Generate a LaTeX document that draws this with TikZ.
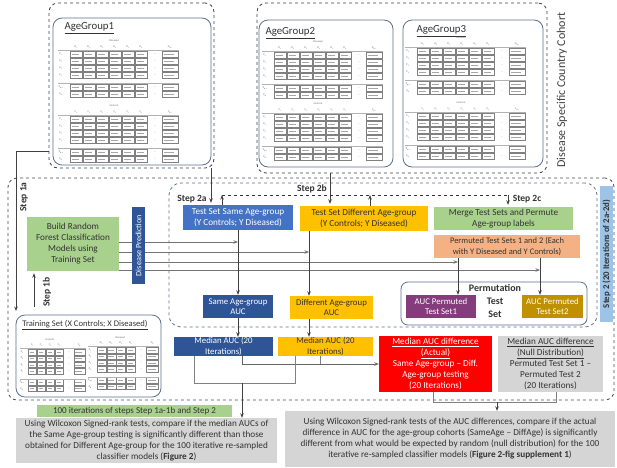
\documentclass[tikz,border=0pt]{standalone}
\usepackage{fontspec}
\setmainfont{Carlito}
\usetikzlibrary{arrows.meta}

\definecolor{leafgreen}{HTML}{A9D18E}
\definecolor{midblue}{HTML}{4472C4}
\definecolor{deepblue}{HTML}{2F5597}
\definecolor{gold}{HTML}{FFC000}
\definecolor{peach}{HTML}{F4B183}
\definecolor{plum}{HTML}{843C7C}
\definecolor{darkgold}{HTML}{BF9000}
\definecolor{alarm}{HTML}{FF0000}
\definecolor{pale}{HTML}{D5D5D5}
\definecolor{skyblue}{HTML}{9DC3E6}
\definecolor{frameblue}{HTML}{5A6E8C}
\definecolor{ink}{HTML}{333333}

\tikzset{
  box/.style={rectangle, align=center, inner sep=0pt, text=ink,
    font=\fontsize{9.2}{11}\selectfont},
  smallbox/.style={box, font=\fontsize{8.8}{10.6}\selectfont},
  frame/.style={rectangle, inner sep=0pt, outer sep=0pt},
  agebox/.style={frame, draw=frameblue, rounded corners=9pt, line width=0.8pt},
  cohortframe/.style={frame, draw=black!75, dashed, rounded corners=9pt, line width=0.8pt},
  loopframe/.style={frame, draw=frameblue, dashed, rounded corners=12pt, line width=0.8pt},
  arr/.style={-{Stealth[length=4.5pt,width=3.5pt]}, draw=black!75, line width=0.8pt},
  feed/.style={arr, draw=black!55},
  link/.style={draw=black!50, line width=0.7pt},
  steplbl/.style={text=ink, font=\bfseries\fontsize{9.5}{11}\selectfont, inner sep=1pt},
  tinytxt/.style={font=\fontsize{2.6}{3}\selectfont, text=black!60, inner sep=0pt},
  cellbox/.style={draw=black!50, fill=white, line width=0.3pt},
  celltxt/.style={draw=black!35, line width=0.7pt},
}

% mini data table: [scaling]{shift}{title}{letter}{columns}{last index}
\newcommand{\datablock}[6][]{%
  \begin{scope}[shift={#2},#1]
    \pgfmathsetmacro{\xd}{13*#5+19}
    \pgfmathsetmacro{\xl}{13*#5+26}
    \node[tinytxt] at (\xl/2+4,0) {#3};
    \foreach \c in {1,...,#5} {
      \node[tinytxt] at (5+13*\c,6) {#4\textsubscript{\c}};
      \node[tinytxt] at (5+13*\c,38.5) {..};
      \foreach \ry in {10,17,24,31,43,50} {
        \draw[cellbox] (-1+13*\c,\ry) rectangle ++(12,6);
        \draw[celltxt] (1+13*\c,\ry+3) -- ++(7,0);
      }
    }
    \node[tinytxt] at (\xl+8,6) {#4\textsubscript{#6}};
    \foreach \ry in {10,17,24,31,43,50} {
      \node[tinytxt] at (\xd,\ry+3) {...};
      \draw[cellbox] (\xl,\ry) rectangle ++(16,6);
      \draw[celltxt] (\xl+2,\ry+3) -- ++(10,0);
    }
    \draw[black!30, line width=0.3pt] (0,9) -- (\xl+17,9) (0,42) -- (\xl+17,42);
    \foreach \ry/\lb in {10/1,17/2,24/3,31/4,43/N-1,50/N}
      \node[tinytxt, text=black!75] at (3,\ry+3) {F\textsubscript{\lb}};
  \end{scope}}

\begin{document}
\begin{tikzpicture}[x=1pt,y=-1pt]
  \useasboundingbox (0,0) rectangle (617,467);

  % cohort
  \node[cohortframe, minimum width=165, minimum height=165] (ag1o) at (131.5,85.5) {};
  \node[agebox, minimum width=158, minimum height=147] (ag1) at (132,91.5) {};
  \node[cohortframe, minimum width=290, minimum height=170] (ag23o) at (402,88) {};
  \node[agebox, minimum width=134, minimum height=147] (ag2) at (326,93.5) {};
  \node[agebox, minimum width=140, minimum height=147] (ag3) at (473,93.5) {};
  \node[anchor=west, text=ink, font=\fontsize{10.8}{12}\selectfont] (ag1t) at (61,28) {\underline{AgeGroup1}};
  \node[anchor=west, text=ink, font=\fontsize{10.8}{12}\selectfont] (ag2t) at (262,33) {\underline{AgeGroup2}};
  \node[anchor=west, text=ink, font=\fontsize{10.8}{12}\selectfont] (ag3t) at (413,31) {\underline{AgeGroup3}};
  \node[rotate=90, text=black!75, font=\fontsize{12}{14}\selectfont] (cohort) at (562,90) {Disease Specific Country Cohort};

  \datablock{(58,41)}{Diseased}{D}{6}{N2}
  \datablock{(58,106)}{Controls}{C}{6}{N1}
  \datablock{(262,42)}{Diseased}{D}{6}{N2}
  \datablock{(262,104)}{Controls}{C}{6}{N1}
  \datablock{(405,38)}{Diseased}{D}{6}{N2}
  \datablock{(405,103)}{Controls}{C}{6}{N1}

  % loops
  \node[cohortframe, draw=black!70, minimum width=606, minimum height=222] (outer) at (311,289) {};
  \node[loopframe, minimum width=428, minimum height=144] (step2) at (383,255) {};
  \node[frame, fill=skyblue, rotate=90, minimum width=136, minimum height=13, text=ink,
        font=\bfseries\fontsize{8.8}{10}\selectfont] (s2tag) at (606.5,254) {Step 2 (20 Iterations of 2a-2d)};

  % training set
  \node[agebox, minimum width=145, minimum height=82] (train) at (88.5,356) {};
  \node[text=ink, font=\fontsize{8.6}{10}\selectfont] (traint) at (85,325) {\underline{Training Set (X Controls; X Diseased)}};
  \datablock[xscale=0.69,yscale=0.92]{(20,340)}{Controls}{C}{4}{N}
  \datablock[xscale=0.75,yscale=0.92]{(88,338)}{Diseased}{D}{4}{N}

  % model and test sets
  \node[box, fill=leafgreen, minimum width=92, minimum height=54] (build) at (73,244)
    {Build Random\\Forest Classification\\Models using\\Training Set};
  \node[box, fill=midblue, text=white, minimum width=110, minimum height=25] (tsame) at (238,217.5)
    {Test Set Same Age-group\\(Y Controls; Y Diseased)};
  \node[box, fill=gold, minimum width=128, minimum height=25] (tdiff) at (364,218.5)
    {Test Set Different Age-group\\(Y Controls; Y Diseased)};
  \node[box, fill=leafgreen, minimum width=139, minimum height=23] (merge) at (503.5,218.5)
    {Merge Test Sets and Permute\\Age-group labels};
  \node[smallbox, fill=peach, font=\fontsize{8.5}{10.5}\selectfont, minimum width=146, minimum height=23] (perm) at (507,246.5)
    {Permuted Test Sets 1 and 2 (Each\\with Y Diseased and Y Controls)};

  % AUC boxes
  \node[agebox, rounded corners=7pt, minimum width=186, minimum height=43] (permbox) at (494,303.5) {};
  \node[box, font=\bfseries\fontsize{10}{13}\selectfont] (permt) at (495,301.5) {Permutation\\Test\\Set};
  \node[smallbox, fill=plum, text=white, minimum width=70, minimum height=23] (aucp1) at (441,306.5)
    {AUC Permuted\\Test Set1};
  \node[smallbox, fill=darkgold, text=white, minimum width=61, minimum height=23] (aucp2) at (552.5,306.5)
    {AUC Permuted\\Test Set2};
  \node[smallbox, fill=deepblue, text=white, minimum width=70, minimum height=23] (sauc) at (238,306.5)
    {Same Age-group\\AUC};
  \node[smallbox, fill=gold, minimum width=83, minimum height=23] (dauc) at (331.5,307.5)
    {Different Age-group\\AUC};
  \node[smallbox, fill=deepblue, text=white, minimum width=99, minimum height=19] (medb) at (223.5,346.5)
    {Median AUC (20\\Iterations)};
  \node[smallbox, fill=gold, minimum width=95, minimum height=19] (medg) at (325.5,346.5)
    {Median AUC (20\\Iterations)};
  \node[box, fill=alarm, text=white, minimum width=113, minimum height=56] (medact) at (435.5,364)
    {\underline{Median AUC difference}\\\underline{(Actual)}\\Same Age-group -- Diff.\\Age-group testing\\(20 Iterations)};
  \node[box, fill=pale, minimum width=105, minimum height=56] (mednull) at (550.5,364)
    {\underline{Median AUC difference}\\\underline{(Null Distribution)}\\Permuted Test Set 1 --\\Permuted Test 2\\(20 Iterations)};

  % summary boxes
  \node[box, fill=leafgreen, font=\fontsize{9}{10}\selectfont, minimum width=195, minimum height=12] (iters) at (134.5,411)
    {100 iterations of steps Step 1a-1b and Step 2};
  \node[box, fill=pale, minimum width=261, minimum height=45] (wil1) at (146.5,440.5)
    {Using Wilcoxon Signed-rank tests, compare if the median AUCs of\\
     the Same Age-group testing is significantly different than those\\
     obtained for Different Age-group for the 100 iterative re-sampled\\
     classifier models (\textbf{Figure 2})};
  \node[box, fill=pale, minimum width=330, minimum height=56] (wil2) at (450,439)
    {Using Wilcoxon Signed-rank tests of the AUC differences, compare if the actual\\
     difference in AUC for the age-group cohorts (SameAge -- DiffAge) is significantly\\
     different from what would be expected by random (null distribution) for the 100\\
     iterative re-sampled classifier models (\textbf{Figure 2-fig supplement 1})};

  % step 1
  \coordinate (s1a) at (16,151);
  \coordinate (s1b) at (34,307);
  \draw[arr] (ag1o.west |- s1a) -- (s1a) -- ([yshift=4pt]s1a |- train.north);
  \draw[arr] (s1b) -- ([yshift=-2pt]s1b |- build.south);
  \node[steplbl, rotate=90] (s1at) at (24,197) {Step 1a};
  \node[steplbl, rotate=90] (s1bt) at (47,292) {Step 1b};

  % step 2 inputs
  \coordinate (in1) at (211,190);
  \coordinate (in2) at (330,190);
  \draw[arr] (in1 |- ag1o.south) -- ([yshift=2pt]in1 |- tsame.north);
  \draw[arr] (in2 |- ag23o.south) -- ([yshift=2pt]in2 |- tdiff.north);
  \coordinate (s2a) at (222,195);
  \coordinate (s2b) at (370,195);
  \coordinate (s2c) at (508,195);
  \draw[black!80, dashed, line width=0.8pt] (s2a) -- (s2c);
  \draw[arr] (s2a |- tsame.north) -- (s2a);
  \draw[arr] (s2b |- tdiff.north) -- (s2b);
  \draw[arr] (s2c) -- ([yshift=2pt]s2c |- merge.north);
  \node[steplbl] (s2at) at (192,199) {Step 2a};
  \node[steplbl] (s2bt) at (312,189) {Step 2b};
  \node[steplbl] (s2ct) at (527,199) {Step 2c};

  % predictions
  \coordinate (f1) at (238,242);
  \coordinate (f2) at (309,252);
  \coordinate (f3) at (458,262);
  \coordinate (f4) at (540,270);
  \foreach \f in {f1,f2,f3,f4}
    \draw[feed] (build.east |- \f) -- (\f);
  \node[box, fill=deepblue, text=white, rotate=90, minimum width=77, minimum height=13,
        font=\fontsize{8.2}{9}\selectfont] (dispred) at (138.5,245.5) {Disease Prediction};

  \draw[arr] (tsame) -- (sauc);
  \draw[arr] (f2 |- tdiff.south) -- (f2 |- dauc.north);
  \draw[arr] (f3 |- perm.south) -- (f3 |- aucp1.north);
  \draw[arr] (f4 |- perm.south) -- (f4 |- aucp2.north);
  \draw[arr] (sauc) -- (sauc |- medb.north);
  \draw[arr] (f2 |- dauc.south) -- (f2 |- medg.north);

  % comparisons
  \coordinate (ba) at (242,364);
  \coordinate (bb) at (320,364);
  \draw[link] (bb |- medg.south) -- (bb);
  \draw[arr, draw=black!60] (ba |- medb.south) -- (ba) -- (medact.west);
  \coordinate (bl) at (194,383);
  \coordinate (br) at (295,383);
  \coordinate (bm) at (242,383);
  \draw[link] (bl |- medb.south) -- (bl) -- (br) -- (br |- medg.south);
  \draw[arr] (bm) -- (bm |- wil1.north);
  \coordinate (cl) at (433,402);
  \coordinate (cr) at (556,402);
  \coordinate (cm) at (497,402);
  \draw[link] (cl |- medact.south) -- (cl) -- (cr) -- (cr |- mednull.south);
  \draw[arr] (cm) -- (cm |- wil2.north);
\end{tikzpicture}
\end{document}
